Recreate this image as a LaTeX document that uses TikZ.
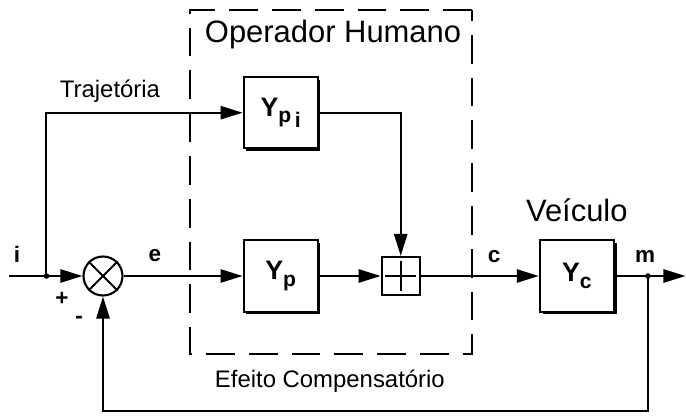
\documentclass[tikz,border=0pt]{standalone}
\usepackage{fontspec}
\setmainfont{Liberation Sans}
\usetikzlibrary{positioning, arrows.meta, calc, shadows}

\begin{document}
\begin{tikzpicture}[
      wire/.style={line width=1.5pt},
      arr/.style={wire, -{Triangle[length=0.55cm, width=0.33cm]}},
      blk/.style={draw, line width=1.5pt, fill=white, minimum width=1.85cm, minimum height=1.78cm, font=\fontsize{19}{22}\selectfont\bfseries, general shadow={shadow xshift=0.07cm, shadow yshift=-0.07cm, fill=black}},
      lbl/.style={font=\fontsize{16}{18}\selectfont\bfseries, anchor=base},
      txt/.style={font=\fontsize{17}{20}\selectfont, anchor=base west},
      big/.style={font=\fontsize{22}{26}\selectfont},
      dashbox/.style={line width=2pt, dash pattern=on 0.72cm off 0.35cm}]
    \useasboundingbox (-2.575,-3.5) rectangle (14.575,6.9);
    \node[draw, circle, wire, minimum size=0.975cm, inner sep=0pt] (mix) at (0,0) {};
    \draw[wire] (mix.north west) -- (mix.south east) (mix.north east) -- (mix.south west);
    \node[blk, right=2.975cm of mix] (yp) {Y\raisebox{-0.45ex}{\fontsize{15}{18}\selectfont p}};
    \node[blk, above=2.25cm of yp] (ypi) {Y\raisebox{-0.45ex}{\fontsize{15}{18}\selectfont p\raisebox{-0.4ex}{\,i}}};
    \node[draw, wire, minimum size=0.95cm, right=1.55cm of yp] (sum) {};
    \draw[wire] ($(sum.north)+(0,-0.12)$) -- ($(sum.south)+(0,0.12)$) ($(sum.west)+(0.12,0)$) -- ($(sum.east)+(-0.12,0)$);
    \node[blk, right=2.95cm of sum] (yc) {Y\raisebox{-0.45ex}{\fontsize{15}{18}\selectfont c}};
    \coordinate[right=0.825cm of yc] (m);
    \coordinate[right=0.94cm of m] (out);
    \coordinate[left=0.9cm of mix] (br);
    \coordinate[left=1.84cm of mix] (in);
    % human operator region
    \draw[dashbox] (9.225,6.65) -- (2.175,6.65) -- (2.175,-1.95) -- (9.225,-1.95) -- cycle;
    \node[txt, big] (oph) at (2.425,5.825) {Operador Humano};
    \node[txt] (traj) at (-1.2,4.45) {Trajetória};
    \node[big, anchor=base] (veic) at ($(yc.north)+(0,0.44)$) {Veículo};
    \node[txt] (efc) at (2.675,-2.8) {Efeito Compensatório};
    \node[lbl] (li) at (-2.15,0.325) {i};
    \node[lbl] (le) at (1.3,0.35) {e};
    \node[lbl] (lc) at (9.775,0.325) {c};
    \node[lbl] (lm) at (13.55,0.325) {m};
    \node[lbl] (lplus) at (-1.025,-0.75) {+};
    \node[lbl] (lminus) at (-0.6,-1.2) {-};
    % connectors
    \draw[arr] (in) -- (mix);
    \fill (br) circle (0.07);
    \draw[arr] (br) |- (ypi);
    \draw[arr] (mix) -- (yp);
    \draw[arr] (yp) -- (sum);
    \draw[arr] (ypi) -| (sum);
    \draw[arr] (sum) -- (yc);
    \draw[arr] (yc) -- (out);
    \fill (m) circle (0.07);
    \draw[arr] (m) -- ++(0,-3.375) -| (mix);
  \end{tikzpicture}
\end{document}
